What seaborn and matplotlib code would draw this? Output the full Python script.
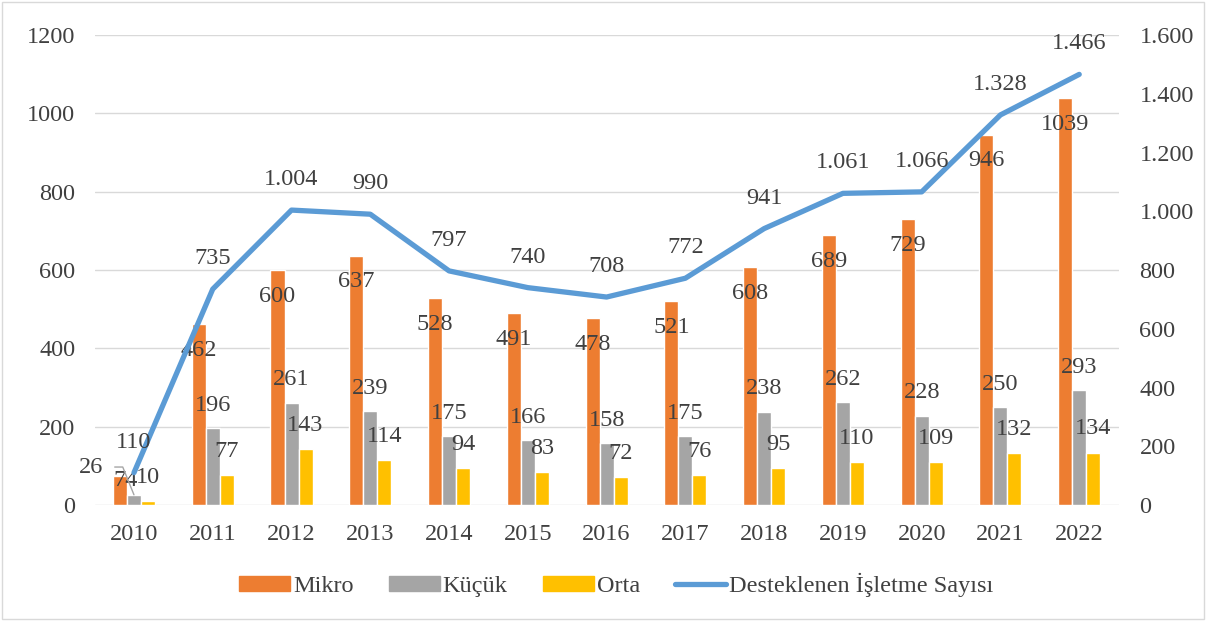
import numpy as np
import pandas as pd
import matplotlib.pyplot as plt
import seaborn as sns
from matplotlib.patches import Patch, Rectangle
from matplotlib.lines import Line2D

# veriler
years = ['2010', '2011', '2012', '2013', '2014', '2015', '2016',
         '2017', '2018', '2019', '2020', '2021', '2022']
mikro = [74, 462, 600, 637, 528, 491, 478, 521, 608, 689, 729, 946, 1039]
kucuk = [26, 196, 261, 239, 175, 166, 158, 175, 238, 262, 228, 250, 293]
orta = [10, 77, 143, 114, 94, 83, 72, 76, 95, 110, 109, 132, 134]
toplam = [110, 735, 1004, 990, 797, 740, 708, 772, 941, 1061, 1066, 1328, 1466]

series = ['Mikro', 'Küçük', 'Orta']
colors = ['#ED7D31', '#A5A5A5', '#FFC000']
line_color = '#5B9BD5'
line_name = 'Desteklenen İşletme Sayısı'
txt = '#404040'

df = pd.DataFrame({'Yıl': years * 3,
                   'Seri': [s for s in series for _ in years],
                   'Değer': mikro + kucuk + orta})

sns.set_style('white')
plt.rcParams['font.family'] = ['Liberation Serif', 'DejaVu Serif']
fs = 17.5

fig = plt.figure(figsize=(12.08, 6.21), dpi=100)
ax = fig.add_axes([0.0783, 0.1868, 0.926 - 0.0783, 0.9436 - 0.1868])

sns.barplot(data=df, x='Yıl', y='Değer', hue='Seri', order=years,
            hue_order=series, palette=colors, width=0.534, ax=ax,
            saturation=1, legend=False)
ax.set_xlim(-0.5, len(years) - 0.5)
ax.set_ylim(0, 1200)
ax.set_yticks(range(0, 1201, 200))
ax.yaxis.grid(True, color='#D9D9D9', lw=1)
ax.set_axisbelow(True)
for s in ax.spines.values():
    s.set_visible(False)
ax.set_xlabel('')
ax.set_ylabel('')
ax.tick_params(axis='both', length=0, labelsize=fs, colors=txt)
ax.tick_params(axis='x', pad=14)
ax.tick_params(axis='y', pad=14)

ax2 = ax.twinx()
sns.lineplot(x=np.arange(len(years)), y=toplam, ax=ax2, color=line_color,
             lw=3.8, solid_capstyle='round')
ax2.set_ylim(0, 1600)
ax2.set_yticks(range(0, 1601, 200))
ax2.set_yticklabels([f'{v:,}'.replace(',', '.') for v in range(0, 1601, 200)])
for s in ax2.spines.values():
    s.set_visible(False)
ax2.tick_params(axis='y', length=0, labelsize=fs, colors=txt, pad=15)
ax2.set_xlim(-0.5, len(years) - 0.5)

# çubuk etiketleri
offsets = [-19, 16.5, 17]
for k, cont in enumerate(ax.containers):
    for i, p in enumerate(cont.patches):
        xc = p.get_x() + p.get_width() / 2
        h = p.get_height()
        val = [mikro, kucuk, orta][k][i]
        if i == 0 and k == 0:
            ax.annotate(str(val), (xc, h), xytext=(4, -3), textcoords='offset points',
                        ha='center', va='center', fontsize=fs, color=txt)
        elif i == 0 and k == 1:
            ax.annotate(str(val), (xc, h), xytext=(-31, 20), textcoords='offset points',
                        ha='center', va='center', fontsize=fs, color=txt,
                        arrowprops=dict(arrowstyle='-', color='#A5A5A5', lw=1,
                                        connectionstyle='angle,angleA=0,angleB=112',
                                        shrinkA=6, shrinkB=0))
        else:
            ax.annotate(str(val), (xc, h), xytext=(0, offsets[k]), textcoords='offset points',
                        ha='center', va='center', fontsize=fs, color=txt)

# çizgi etiketleri
for i, v in enumerate(toplam):
    ax2.annotate(f'{v:,}'.replace(',', '.'), (i, v), xytext=(0, 22),
                 textcoords='offset points', ha='center', va='center',
                 fontsize=fs, color=txt)

handles = [Patch(color=c) for c in colors] + [Line2D([], [], color=line_color, lw=3.8,
                                                     solid_capstyle='round')]
fig.legend(handles, series + [line_name], loc='center', bbox_to_anchor=(0.51, 0.058),
           ncol=4, frameon=False, fontsize=fs, handlelength=2.1, handleheight=0.62,
           columnspacing=1.45, handletextpad=0.12, labelcolor=txt)

fig.patches.append(Rectangle((0.002, 0.004), 0.995, 0.993, transform=fig.transFigure,
                             fill=False, edgecolor='#D9D9D9', lw=1))

fig.savefig('out.png', dpi=100)
